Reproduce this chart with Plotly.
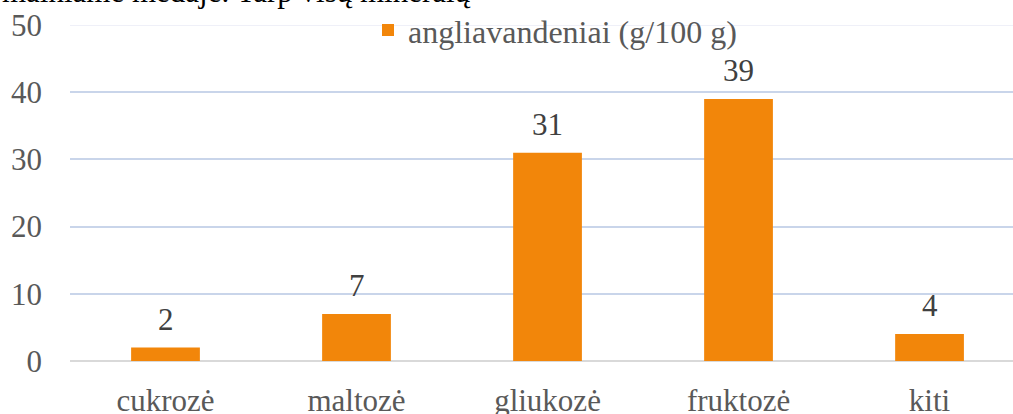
import plotly.graph_objects as go

categories = ["cukrozė", "maltozė", "gliukozė", "fruktozė", "kiti"]
values = [2, 7, 31, 39, 4]
series_name = "angliavandeniai (g/100 g)"
y_ticks = [0, 10, 20, 30, 40, 50]

FONT = "Times New Roman, Liberation Serif, DejaVu Serif, serif"

fig = go.Figure()
fig.add_trace(go.Bar(
    x=categories, y=values, name=series_name,
    width=0.36,
    marker=dict(color="#F2860A", line=dict(width=0)),
    showlegend=True,
))

annotations = [dict(x=c, y=v, xref="x", yref="y", text=str(v), showarrow=False,
                    yanchor="bottom", yshift=9,
                    font=dict(family=FONT, size=31, color="#404040"))
               for c, v in zip(categories, values)]
annotations.append(dict(text="mainiame medaje. Tarp visų mineralų", xref="paper", yref="paper",
                        x=-70/943, xanchor="left", y=1 + 14.5/336, yanchor="bottom",
                        showarrow=False, font=dict(family=FONT, size=31, color="#000000")))

fig.update_layout(
    width=1013, height=414,
    margin=dict(l=70, r=0, t=25, b=53, autoexpand=False),
    paper_bgcolor="white", plot_bgcolor="white",
    font=dict(family=FONT, size=31, color="#595959"),
    showlegend=True,
    legend=dict(orientation="h", x=(368-70)/943, xanchor="left", y=1.066, yanchor="top",
                font=dict(family=FONT, size=32, color="#595959"),
                bgcolor="rgba(0,0,0,0)"),
    xaxis=dict(range=[-0.5, 4.437], showgrid=False, showline=False, ticks="", automargin=False,
               tickfont=dict(family=FONT, size=31, color="#595959"), ticklabelstandoff=18),
    yaxis=dict(range=[0, 50], tickvals=y_ticks, showgrid=True, gridcolor="#C9D5EA", gridwidth=1.5,
               zeroline=True, zerolinecolor="#D9D9D9", zerolinewidth=2, showline=False, ticks="",
               automargin=False,
               tickfont=dict(family=FONT, size=31, color="#595959"), ticklabelstandoff=27),
    shapes=[dict(type="line", xref="paper", yref="y", x0=0, x1=1, y0=y_ticks[-1], y1=y_ticks[-1],
                 line=dict(color="#EFF0F8", width=2), layer="below")],
    annotations=annotations,
)

fig.write_html("out.html", config={"displayModeBar": False},
               post_script="document.body.style.margin='0';document.body.style.padding='0';")
